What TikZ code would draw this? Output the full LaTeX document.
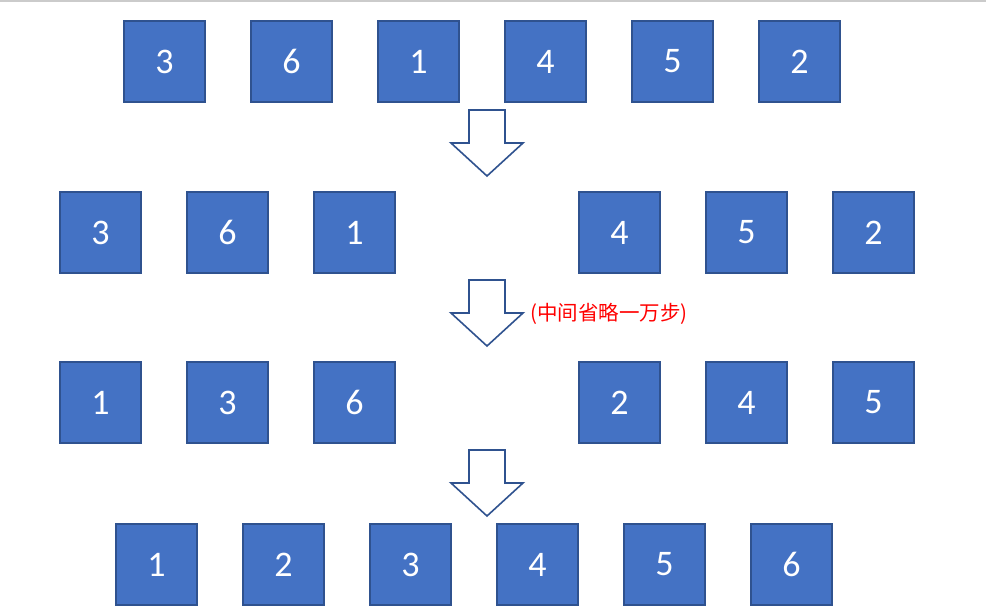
\documentclass[tikz,border=0pt]{standalone}
\usepackage{fontspec}
\usepackage{tikz}
\usetikzlibrary{positioning}
\setmainfont{Carlito}
\newfontfamily\cjk{Noto Sans CJK SC}
\definecolor{boxfill}{HTML}{4472C4}
\definecolor{boxline}{HTML}{2F528F}
\definecolor{topline}{HTML}{CBCBCB}

\begin{document}
\begin{tikzpicture}
		[x=1pt, y=-1pt,
		 numbox/.style={rectangle, draw=boxline, fill=boxfill, line width=2pt,
		   minimum width=81.5pt, minimum height=81.5pt, inner sep=0pt,
		   text=white, font=\fontsize{36}{40}\selectfont, node distance=43.5pt},
		 downarrow/.style={draw=boxline, fill=white, line width=1.6pt, line join=miter}]
		\useasboundingbox (0,0) rectangle (986,606);
		\fill[topline] (0,0) rectangle (986,1.5);

		% row 1: 3 6 1 4 5 2
		\node[numbox] (a1) at (164.5,61.5) {3};
		\node[numbox, right=of a1] (a2) {6};
		\node[numbox, right=of a2] (a3) {1};
		\node[numbox, right=of a3] (a4) {4};
		\node[numbox, right=of a4] (a5) {5};
		\node[numbox, right=of a5] (a6) {2};

		% row 2: split in two halves
		\node[numbox] (b1) at (100.5,232.5) {3};
		\node[numbox, right=of b1] (b2) {6};
		\node[numbox, right=of b2] (b3) {1};
		\node[numbox, right=181.5pt of b3] (b4) {4};
		\node[numbox, right=of b4] (b5) {5};
		\node[numbox, right=of b5] (b6) {2};

		% row 3: each half sorted
		\node[numbox] (c1) at (100.5,402.5) {1};
		\node[numbox, right=of c1] (c2) {3};
		\node[numbox, right=of c2] (c3) {6};
		\node[numbox, right=181.5pt of c3] (c4) {2};
		\node[numbox, right=of c4] (c5) {4};
		\node[numbox, right=of c5] (c6) {5};

		% row 4: merged
		\node[numbox] (d1) at (156.5,564.5) {1};
		\node[numbox, right=of d1] (d2) {2};
		\node[numbox, right=of d2] (d3) {3};
		\node[numbox, right=of d3] (d4) {4};
		\node[numbox, right=of d4] (d5) {5};
		\node[numbox, right=of d5] (d6) {6};

		% block arrows between the rows
		\foreach \name/\top in {arrA/110, arrB/280, arrC/450}
		{
			\coordinate (\name) at (487,\top);
			\draw[downarrow] (\name) ++(-18,0) -- ++(0,33) -- ++(-18,0)
				-- ++(36,33) -- ++(36,-33) -- ++(-18,0) -- ++(0,-33) -- cycle;
		}
		\node[anchor=west, text=red, inner sep=0pt, font=\cjk\fontsize{20.5}{24}\selectfont]
			(skip) at (530,314) {(中间省略一万步)};
	\end{tikzpicture}
\end{document}
